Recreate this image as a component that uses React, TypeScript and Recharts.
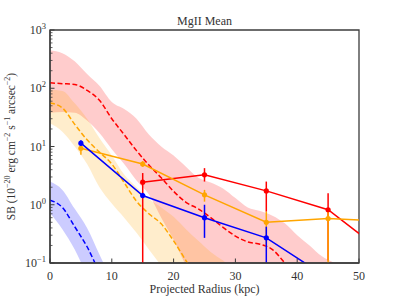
import React from "react"
import { ComposedChart, Area, Line, XAxis, YAxis, ErrorBar, ReferenceArea } from "recharts"

// model curves, sampled every 2 kpc from 0
const modelR = [0, 2, 4, 6, 8, 10, 12, 14, 16, 18, 20, 22, 24, 26, 28, 30, 32, 34, 36, 38, 40, 42, 44, 46, 48]

const redModel = [124, 120, 116, 92, 62, 30, 16, 8.5, 4.8, 2.9, 1.7, 1.1, 0.85, 0.6, 0.41, 0.29, 0.23, 0.21, 0.17, 0.1, 0.055]
const redModelHi = [450, 400, 290, 175, 110, 58, 44, 30, 16, 10, 7, 4.5, 2.9, 2.4, 1.9, 1.3, 0.9, 0.78, 0.65, 0.48, 0.3, 0.2, 0.13, 0.1, 0.07]
const redModelLo = [38, 39, 38, 28, 17, 9, 5, 2.6, 1.5, 0.6, 0.25, 0.09, 0.04, 0.02, 0.01, 0.01, 0.01, 0.01, 0.01, 0.01, 0.01, 0.01, 0.01, 0.01, 0.01]

const orangeModel = [56, 46, 24, 13, 8, 5, 2.4, 1.15, 0.7, 0.47, 0.24, 0.11, 0.05]
const orangeModelHi = [94, 90, 55, 30, 14, 7, 3.3, 2.0, 1.25, 0.9, 0.62, 0.38, 0.24, 0.155, 0.11, 0.075]
const orangeModelLo = [25, 18, 10, 5, 2, 1.05, 0.6, 0.33, 0.17, 0.09, 0.05, 0.03, 0.02, 0.01, 0.01, 0.01]

const blueModel = [1.2, 0.9, 0.42, 0.19, 0.07, 0.03]
const blueModelHi = [2.5, 1.8, 0.85, 0.4, 0.14, 0.05]
const blueModelLo = [0.72, 0.38, 0.17, 0.06, 0.02, 0.01]

// measured radial bins (error bars that run off the bottom stop at the axis floor)
const binR = [5, 15, 25, 35, 45, 55]
const redMean = [null, 2.44, 3.26, 1.73, 0.82, 0.125]
const redLow = [null, 0.1, 2.5, 0.76, 0.11, 0.125]
const redHigh = [null, 3.5, 4.25, 2.5, 1.58, 0.125]

const orangeMean = [9.3, 5.0, 1.48, 0.5, 0.58, 0.52]
const orangeLow = [7.2, 4.5, 1.13, 0.19, 0.1, 0.52]
const orangeHigh = [10.6, 5.6, 1.8, 0.76, 0.8, 0.52]

const blueMean = [11.4, 1.44, 0.6, 0.27, 0.055, null]
const blueLow = [10.0, 1.3, 0.27, 0.1, 0.055, null]
const blueHigh = [12.8, 1.6, 1.0, 0.42, 0.055, null]

const xTicks = [0, 10, 20, 30, 40, 50]
const yMajor = [0.1, 1, 10, 100, 1000]
const yTicks = [...yMajor, ...yMajor.slice(0, -1).flatMap(d => [2, 3, 4, 5, 6, 7, 8, 9].map(k => k * d))]

const FONT = "'Liberation Serif', 'DejaVu Serif', serif"
const TXT = "#333"
const AXIS = "#3c3c3c"

const band = (lo: number[], hi: number[]) => hi.map((h, i) => ({ r: modelR[i], range: [lo[i], h] }))
const curve = (vals: number[]) => vals.map((v, i) => ({ r: modelR[i], v }))
const points = (mean: (number | null)[], low: (number | null)[], high: (number | null)[]) =>
    binR
        .map((r, i) => ({ r, v: mean[i], err: mean[i] == null ? [0, 0] : [mean[i]! - low[i]!, high[i]! - mean[i]!] }))
        .filter(d => d.v != null)

const redBand = band(redModelLo, redModelHi)
const orangeBand = band(orangeModelLo, orangeModelHi)
const blueBand = band(blueModelLo, blueModelHi)

function YTick({ x, y, payload }: any) {
    const p = Math.log10(payload.value)
    const e = Math.round(p)
    const major = Math.abs(p - e) < 1e-6
    return (
        <g>
            <line x1={x} x2={x + (major ? 4.5 : 2.5)} y1={y} y2={y} stroke={AXIS} strokeWidth={major ? 1 : 0.8} />
            {major && (
                <text x={x - 4} y={y + 4} textAnchor="end" fontSize={12} fill={TXT} fontFamily={FONT}>
                    10<tspan dy={-5} fontSize={8.5}>{e < 0 ? "\u2212" + -e : e}</tspan>
                </text>
            )}
        </g>
    )
}

function XTick({ x, y, payload }: any) {
    return (
        <g>
            <line x1={x} x2={x} y1={y} y2={y - 4.5} stroke={AXIS} strokeWidth={1} />
            <text x={x} y={y + 17} textAnchor="middle" fontSize={12} fill={TXT} fontFamily={FONT}>{payload.value}</text>
        </g>
    )
}

export default function App() {
    const dot = (c: string) => ({ r: 2.6, fill: c, stroke: c, strokeWidth: 0 })
    return (
        <div style={{ position: "absolute", left: 0, top: 0, width: 399, height: 299, background: "#fff" }}>
            <ComposedChart width={399} height={299} margin={{ top: 30, right: 40, left: 0, bottom: 0 }}>
                <XAxis type="number" dataKey="r" domain={[0, 50]} ticks={xTicks} interval={0} allowDataOverflow
                    tickSize={0} tickMargin={0} tickLine={false} tick={(p: any) => <XTick {...p} />}
                    axisLine={{ stroke: AXIS, strokeWidth: 1.3 }} height={36} />
                <YAxis type="number" scale="log" domain={[0.1, 1000]} ticks={yTicks} interval={0} allowDataOverflow
                    tickSize={0} tickMargin={0} tickLine={false} tick={(p: any) => <YTick {...p} />}
                    axisLine={{ stroke: AXIS, strokeWidth: 1.3 }} width={50} />

                {/* shaded model ranges */}
                <Area data={redBand} dataKey="range" type="monotone" stroke="none" fill="#ff0000" fillOpacity={0.2} isAnimationActive={false} />
                <Area data={orangeBand} dataKey="range" type="monotone" stroke="none" fill="#ffa500" fillOpacity={0.2} isAnimationActive={false} />
                <Area data={blueBand} dataKey="range" type="monotone" stroke="none" fill="#0000ff" fillOpacity={0.2} isAnimationActive={false} />

                {/* model means */}
                <Line data={curve(redModel)} dataKey="v" type="monotone" stroke="#ff0000" strokeWidth={1.5} strokeDasharray="5 2.5" dot={false} isAnimationActive={false} />
                <Line data={curve(orangeModel)} dataKey="v" type="monotone" stroke="#ffa500" strokeWidth={1.5} strokeDasharray="5 2.5" dot={false} isAnimationActive={false} />
                <Line data={curve(blueModel)} dataKey="v" type="monotone" stroke="#0000ff" strokeWidth={1.5} strokeDasharray="5 2.5" dot={false} isAnimationActive={false} />

                {/* measurements */}
                <Line data={points(redMean, redLow, redHigh)} dataKey="v" type="linear" stroke="#ff0000" strokeWidth={1.5} dot={dot("#ff0000")} isAnimationActive={false}>
                    <ErrorBar dataKey="err" direction="y" width={0} stroke="#ff0000" strokeWidth={1.5} isAnimationActive={false} />
                </Line>
                <Line data={points(orangeMean, orangeLow, orangeHigh)} dataKey="v" type="linear" stroke="#ffa500" strokeWidth={1.5} dot={dot("#ffa500")} isAnimationActive={false}>
                    <ErrorBar dataKey="err" direction="y" width={0} stroke="#ffa500" strokeWidth={1.5} isAnimationActive={false} />
                </Line>
                <Line data={points(blueMean, blueLow, blueHigh)} dataKey="v" type="linear" stroke="#0000ff" strokeWidth={1.5} dot={dot("#0000ff")} isAnimationActive={false}>
                    <ErrorBar dataKey="err" direction="y" width={0} stroke="#0000ff" strokeWidth={1.5} isAnimationActive={false} />
                </Line>

                <ReferenceArea x1={0} x2={50} y1={0.1} y2={1000} fill="none" fillOpacity={0} stroke={AXIS} strokeWidth={1.3} ifOverflow="visible" />
            </ComposedChart>
            <svg width={399} height={299} style={{ position: "absolute", left: 0, top: 0, pointerEvents: "none" }}>
                <text x={204.5} y={25} textAnchor="middle" fontSize={12} fill={TXT} fontFamily={FONT}>MgII Mean</text>
                <text x={204.5} y={292.5} textAnchor="middle" fontSize={12} fill={TXT} fontFamily={FONT}>Projected Radius (kpc)</text>
                <text transform="translate(15,146.5) rotate(-90)" textAnchor="middle" fontSize={11.5} fill={TXT} fontFamily={FONT}>
                    SB (10<tspan dy={-5} fontSize={8}>{"\u221220"}</tspan>
                    <tspan dy={5}> erg cm</tspan><tspan dy={-5} fontSize={8}>{"\u22122"}</tspan>
                    <tspan dy={5}> s</tspan><tspan dy={-5} fontSize={8}>{"\u22121"}</tspan>
                    <tspan dy={5}> arcsec</tspan><tspan dy={-5} fontSize={8}>{"\u22122"}</tspan>
                    <tspan dy={5}>)</tspan>
                </text>
            </svg>
        </div>
    )
}
